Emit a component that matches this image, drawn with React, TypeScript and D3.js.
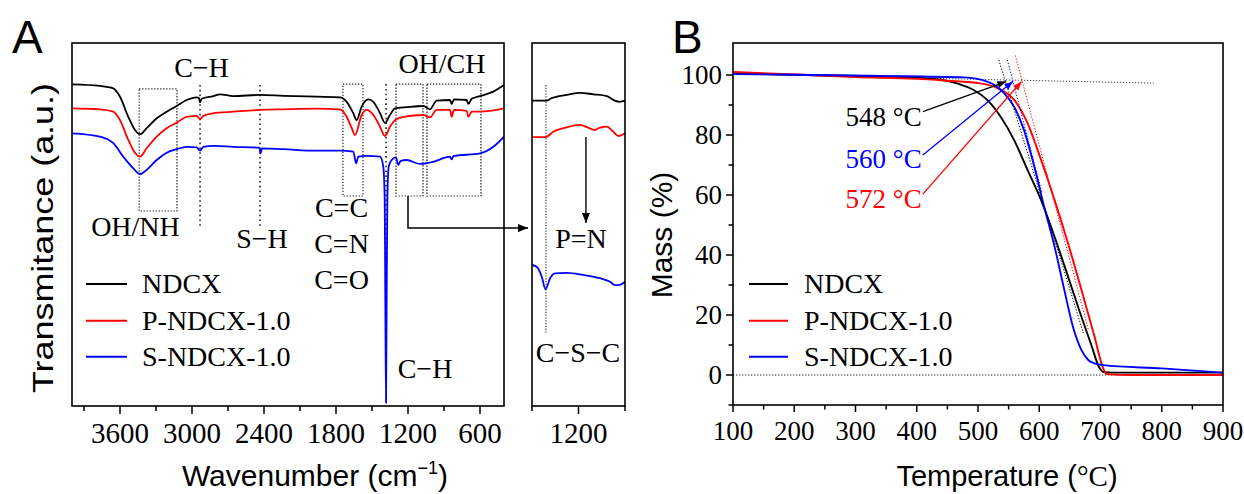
import React from 'react';
import * as d3 from 'd3';

const SERIF = "'Liberation Serif','Times New Roman',serif";
const SANS = "'Liberation Sans',Arial,sans-serif";
const BLACK = '#000000';
const RED = '#ff0000';
const BLUE = '#0000ff';

// ---------- FTIR (panel A) ----------
const ndcxWavenumber = [4000, 3767, 3656, 3600, 3531, 3475, 3433, 3378, 3294, 3211, 3128, 3044, 2961, 2942, 2933, 2919, 2822, 2767, 2656, 2433, 2239, 1961, 1767, 1711, 1656, 1628, 1586, 1531, 1489, 1433, 1392, 1350, 1308, 1211, 1072, 1017, 961, 850, 836, 817, 711, 697, 669, 600, 489, 400];
const ndcxTransmittance = [107.2, 106.7, 105.9, 103.1, 96.4, 92.0, 90.6, 92.6, 95.9, 98.1, 100.0, 102.0, 102.9, 102.6, 101.2, 102.4, 103.3, 103.9, 103.3, 103.7, 103.4, 103.1, 102.9, 101.4, 97.6, 95.3, 99.8, 102.2, 101.4, 97.6, 94.4, 97.0, 99.2, 99.6, 100.0, 98.9, 101.8, 102.0, 100.6, 102.2, 102.0, 100.7, 102.4, 103.3, 104.8, 107.0];

const pNdcxWavenumber = [4000, 3767, 3656, 3600, 3531, 3475, 3433, 3378, 3294, 3211, 3128, 3044, 2961, 2933, 2906, 2822, 2656, 2433, 2239, 1961, 1767, 1711, 1669, 1642, 1586, 1544, 1489, 1433, 1392, 1350, 1308, 1239, 1072, 1017, 961, 850, 836, 817, 711, 697, 669, 600, 400];
const pNdcxTransmittance = [99.2, 98.9, 98.1, 95.3, 88.7, 84.4, 83.1, 85.9, 89.8, 92.6, 94.4, 96.4, 96.7, 95.6, 96.7, 97.6, 98.1, 98.7, 98.9, 99.1, 98.9, 96.4, 92.6, 90.3, 97.0, 98.7, 97.0, 93.1, 90.0, 93.1, 95.3, 96.4, 97.0, 96.2, 98.7, 98.7, 96.4, 98.7, 98.4, 96.4, 98.1, 98.1, 99.2];

const sNdcxWavenumber = [4000, 3767, 3656, 3572, 3489, 3433, 3378, 3294, 3211, 3128, 3044, 2961, 2933, 2906, 2822, 2656, 2439, 2428, 2417, 2239, 1961, 1767, 1656, 1633, 1614, 1544, 1433, 1406, 1394, 1389, 1383, 1378, 1372, 1361, 1336, 1300, 1281, 1261, 1211, 1100, 989, 850, 836, 822, 600, 489, 400];
const sNdcxTransmittance = [90.9, 89.8, 87.6, 83.1, 79.2, 77.3, 78.7, 82.0, 84.4, 85.6, 86.4, 86.2, 85.1, 86.4, 86.7, 86.4, 86.1, 84.2, 85.9, 85.6, 85.1, 85.1, 84.8, 80.9, 83.1, 83.4, 83.1, 79.8, 68.7, 35.3, 1.0, 35.3, 68.7, 79.8, 82.0, 82.9, 80.3, 81.7, 82.0, 80.7, 81.4, 83.1, 82.2, 83.3, 84.2, 86.4, 89.8];

// inset (expanded 1300-1100 cm-1)
const insetNdcxWavenumber = [1300, 1268, 1258, 1225, 1197, 1168, 1139, 1122, 1111, 1100];
const insetNdcxTransmittance = [101.8, 101.8, 102.6, 103.7, 104.4, 103.9, 103.3, 101.8, 101.4, 101.8];
const insetPNdcxWavenumber = [1300, 1272, 1254, 1225, 1197, 1179, 1165, 1154, 1139, 1125, 1114, 1100];
const insetPNdcxTransmittance = [89.6, 89.6, 91.4, 92.9, 93.7, 92.8, 92.0, 92.8, 93.1, 91.4, 90.0, 90.9];
const insetSNdcxWavenumber = [1300, 1290, 1279, 1271, 1261, 1251, 1225, 1190, 1154, 1132, 1122, 1111, 1100];
const insetSNdcxTransmittance = [47.0, 46.4, 43.1, 38.9, 42.6, 44.2, 44.4, 43.7, 42.6, 41.4, 40.3, 40.4, 41.4];

const ftirMajorTicks = [3600, 3000, 2400, 1800, 1200, 600];
const ftirMinorTicks = [3900, 3300, 2700, 2100, 1500, 900];
const insetMajorTicks = [1200];
const insetMinorTicks = [1300, 1100];

// ---------- TGA (panel B) ----------
const ndcxTemp = [100, 200, 300, 400, 440, 466, 493, 515, 537, 559, 581, 603, 625, 647, 667, 685, 698, 705, 720, 800, 900];
const ndcxMass = [100.5, 100.1, 99.7, 99.2, 98.4, 97.2, 95.0, 91.7, 86.1, 78.3, 68.3, 58.3, 46.1, 32.8, 20.5, 10.0, 2.5, 1.0, 0.8, 0.8, 0.8];
const pNdcxTemp = [100, 200, 300, 400, 450, 504, 532, 559, 581, 603, 625, 647, 669, 690, 703, 710, 750, 900];
const pNdcxMass = [101.0, 100.2, 99.3, 98.7, 98.1, 97.2, 95.6, 91.7, 83.9, 71.7, 58.3, 43.9, 28.3, 13.0, 3.0, 0.3, 0.0, 0.0];
const sNdcxTemp = [100, 200, 340, 477, 515, 543, 559, 575, 592, 608, 625, 641, 655, 669, 680, 690, 705, 800, 900];
const sNdcxMass = [100.3, 100.1, 99.7, 99.2, 97.8, 93.9, 89.4, 81.7, 69.4, 56.1, 42.8, 28.3, 16.1, 8.3, 5.0, 3.9, 3.3, 2.2, 0.8];

const tgaXMajor = [100, 200, 300, 400, 500, 600, 700, 800, 900];
const tgaXMinor = [150, 250, 350, 450, 550, 650, 750, 850];
const tgaYMajor = [0, 20, 40, 60, 80, 100];
const tgaYMinor = [-10, 10, 30, 50, 70, 90];

const onsetLabels = ['548 °C', '560 °C', '572 °C'];
const onsetTemps = [546, 557, 571];
// tangent lines [T start, mass start, T end, mass end]
const tangentBlack = [534, 105, 672, 14];
const tangentBlue = [548, 105, 604, 61];
const tangentRed = [561, 106.5, 680, 15.3];
const baselineTangent = [100, 100.3, 787, 97.3];

const seriesNames = ['NDCX', 'P-NDCX-1.0', 'S-NDCX-1.0'];
const seriesColors = [BLACK, RED, BLUE];

function makePath(sx: any, sy: any, xs: number[], ys: number[], curve: any) {
  const pts: [number, number][] = xs.map((x, i) => [x, ys[i]]);
  return d3.line<[number, number]>().x(d => sx(d[0])).y(d => sy(d[1])).curve(curve)(pts) || '';
}

export default function App() {
  // panel A
  const xA = d3.scaleLinear().domain([4000, 400]).range([72, 504]);
  const yA = d3.scaleLinear().domain([0, 121]).range([406, 43]);
  const xI = d3.scaleLinear().domain([1300, 1100]).range([532, 625]);
  // panel B
  const xB = d3.scaleLinear().domain([100, 900]).range([733, 1223]);
  const yB = d3.scaleLinear().domain([-10, 110.67]).range([405, 43]);

  const dotted = { stroke: '#222', strokeWidth: 1.2, strokeDasharray: '1.3 1.7', fill: 'none' } as any;

  const ftirSeries = [
    [ndcxWavenumber, ndcxTransmittance],
    [pNdcxWavenumber, pNdcxTransmittance],
    [sNdcxWavenumber, sNdcxTransmittance],
  ];
  const insetSeries = [
    [insetNdcxWavenumber, insetNdcxTransmittance],
    [insetPNdcxWavenumber, insetPNdcxTransmittance],
    [insetSNdcxWavenumber, insetSNdcxTransmittance],
  ];
  const tgaSeries = [
    [ndcxTemp, ndcxMass],
    [pNdcxTemp, pNdcxMass],
    [sNdcxTemp, sNdcxMass],
  ];

  const ftirBoxes = [
    [3440, 3125, 65, 105.7],
    [1742, 1575, 70, 107.3],
    [1300, 1075, 70, 107.3],
    [1042, 592, 70, 107.3],
  ];
  const ftirVLines = [
    [2933, 59.7, 107],
    [2433, 59.7, 107],
    [1383, 2, 107.3],
  ];
  const ftirLabels: [string, number, number][] = [
    ['C−H', 2921, 109.7],
    ['OH/CH', 917, 111],
    ['OH/NH', 3471, 56.7],
    ['S−H', 2417, 52.7],
    ['C=C', 1754, 63],
    ['C=N', 1754, 51],
    ['C=O', 1754, 39],
    ['C−H', 1058, 9.3],
  ];

  const AX0 = xA.range()[0], AX1 = xA.range()[1];
  const AY0 = yA.range()[1], AY1 = yA.range()[0];
  const IX0 = xI.range()[0], IX1 = xI.range()[1];
  const BX0 = xB.range()[0], BX1 = xB.range()[1];
  const BY0 = yB.range()[1], BY1 = yB.range()[0];

  const legendRows = [284, 320.7, 356.7];

  return (
    <svg width={1244} height={494} viewBox="0 0 1244 494"
      style={{ position: 'absolute', left: 0, top: 0, background: '#fff' }}>
      <defs>
        {seriesColors.map((c, i) => (
          <marker key={i} id={`ah${i}`} viewBox="0 0 10 8" refX="10" refY="4"
            markerWidth="9" markerHeight="7" markerUnits="userSpaceOnUse" orient="auto">
            <path d="M0,0 L10,4 L0,8 z" fill={c} />
          </marker>
        ))}
        <marker id="ahBig" viewBox="0 0 10 8" refX="10" refY="4"
          markerWidth="11" markerHeight="8" markerUnits="userSpaceOnUse" orient="auto">
          <path d="M0,0 L10,4 L0,8 z" fill="#000" />
        </marker>
        <clipPath id="clipA"><rect x={AX0} y={AY0} width={AX1 - AX0} height={AY1 - AY0} /></clipPath>
        <clipPath id="clipI"><rect x={IX0} y={AY0} width={IX1 - IX0} height={AY1 - AY0} /></clipPath>
        <clipPath id="clipB"><rect x={BX0} y={BY0} width={BX1 - BX0} height={BY1 - BY0} /></clipPath>
      </defs>

      {/* ================= Panel A ================= */}
      <text x={12} y={53} fontFamily={SANS} fontSize={46}>A</text>

      {/* annotation boxes and lines */}
      {ftirBoxes.map((b, i) => (
        <rect key={i} x={xA(b[0])} y={yA(b[3])} width={xA(b[1]) - xA(b[0])} height={yA(b[2]) - yA(b[3])} style={dotted} />
      ))}
      {ftirVLines.map((l, i) => (
        <line key={i} x1={xA(l[0])} x2={xA(l[0])} y1={yA(l[2])} y2={yA(l[1])} style={{ ...dotted, strokeWidth: 1.6, strokeDasharray: '1.6 3.2' }} />
      ))}

      <g clipPath="url(#clipA)">
        {ftirSeries.map((s, i) => (
          <path key={i} d={makePath(xA, yA, s[0], s[1], d3.curveMonotoneX)} fill="none" stroke={seriesColors[i]} strokeWidth={1.8} strokeLinejoin="round" />
        ))}
      </g>

      {ftirLabels.map((l, i) => (
        <text key={i} x={xA(l[1])} y={yA(l[2])} fontFamily={SERIF} fontSize={28} textAnchor="middle">{l[0]}</text>
      ))}

      {/* arrow to inset */}
      <path d={`M${xA(1200)},${yA(70)} L${xA(1200)},${yA(59.3)} L${IX0 - 4},${yA(59.3)}`} fill="none" stroke="#000" strokeWidth={1.5} markerEnd="url(#ahBig)" />

      {/* legend A */}
      {seriesNames.map((n, i) => (
        <g key={i}>
          <line x1={86} x2={127} y1={legendRows[i]} y2={legendRows[i]} stroke={seriesColors[i]} strokeWidth={2} />
          <text x={142} y={legendRows[i] + 9} fontFamily={SERIF} fontSize={28}>{n}</text>
        </g>
      ))}

      <rect x={AX0} y={AY0} width={AX1 - AX0} height={AY1 - AY0} fill="none" stroke="#000" strokeWidth={1.6} />
      {ftirMajorTicks.map(t => (
        <g key={t}>
          <line x1={xA(t)} x2={xA(t)} y1={AY1} y2={AY1 + 8} stroke="#000" strokeWidth={1.5} />
          <text x={xA(t)} y={443} fontFamily={SERIF} fontSize={29} textAnchor="middle">{t}</text>
        </g>
      ))}
      {ftirMinorTicks.map(t => (
        <line key={t} x1={xA(t)} x2={xA(t)} y1={AY1} y2={AY1 + 5} stroke="#000" strokeWidth={1.5} />
      ))}

      {/* inset */}
      <line x1={xI(1270)} x2={xI(1270)} y1={yA(107)} y2={yA(24.3)} style={{ ...dotted, strokeWidth: 1.1, strokeDasharray: '1.2 1.6' }} />
      <g clipPath="url(#clipI)">
        {insetSeries.map((s, i) => (
          <path key={i} d={makePath(xI, yA, s[0], s[1], d3.curveMonotoneX)} fill="none" stroke={seriesColors[i]} strokeWidth={1.8} />
        ))}
      </g>
      <line x1={xI(1184)} x2={xI(1184)} y1={yA(89.7)} y2={yA(61)} stroke="#000" strokeWidth={1.4} markerEnd="url(#ahBig)" />
      <text x={xI(1194.6)} y={yA(52.7)} fontFamily={SERIF} fontSize={28} textAnchor="middle">P=N</text>
      <text x={xI(1201)} y={yA(14.7)} fontFamily={SERIF} fontSize={28} textAnchor="middle">C−S−C</text>
      <rect x={IX0} y={AY0} width={IX1 - IX0} height={AY1 - AY0} fill="none" stroke="#000" strokeWidth={1.6} />
      {insetMajorTicks.map(t => (
        <g key={t}>
          <line x1={xI(t)} x2={xI(t)} y1={AY1} y2={AY1 + 8} stroke="#000" strokeWidth={1.5} />
          <text x={xI(t)} y={443} fontFamily={SERIF} fontSize={29} textAnchor="middle">{t}</text>
        </g>
      ))}
      {insetMinorTicks.map(t => (
        <line key={t} x1={xI(t)} x2={xI(t)} y1={AY1} y2={AY1 + 5} stroke="#000" strokeWidth={1.5} />
      ))}

      {/* axis titles A */}
      <text x={315} y={486} fontFamily={SANS} fontSize={30} textAnchor="middle">
        Wavenumber (cm<tspan fontSize={18} dy={-12}>−1</tspan><tspan dy={12}>)</tspan>
      </text>
      <text transform="translate(53,238) rotate(-90)" fontFamily={SANS} fontSize={30} textAnchor="middle"
        textLength={310} lengthAdjust="spacingAndGlyphs">Transmitance (a.u.)</text>

      {/* ================= Panel B ================= */}
      <text x={672} y={53} fontFamily={SANS} fontSize={46}>B</text>

      <g clipPath="url(#clipB)">
        <line x1={xB(100)} x2={xB(900)} y1={yB(0)} y2={yB(0)} style={{ ...dotted, strokeWidth: 1 }} />
        <line x1={xB(baselineTangent[0])} y1={yB(baselineTangent[1])} x2={xB(baselineTangent[2])} y2={yB(baselineTangent[3])} style={{ ...dotted, stroke: '#444', strokeWidth: 1 }} />
        {tgaSeries.map((s, i) => (
          <path key={i} d={makePath(xB, yB, s[0], s[1], d3.curveMonotoneX)} fill="none" stroke={seriesColors[i]} strokeWidth={1.9} strokeLinejoin="round" />
        ))}
        {[tangentBlack, tangentRed, tangentBlue].map((t, i) => (
          <line key={i} x1={xB(t[0])} y1={yB(t[1])} x2={xB(t[2])} y2={yB(t[3])}
            style={{ ...dotted, stroke: [BLACK, RED, BLUE][i], strokeWidth: 1 }} />
        ))}
      </g>

      {onsetLabels.map((l, i) => {
        const baseMass = [83, 69, 55.7][i];
        const startMass = [87.8, 73.3, 60.3][i];
        return (
          <g key={i}>
            <text x={xB(408)} y={yB(baseMass)} fontFamily={SERIF} fontSize={27} textAnchor="end" fill={seriesColors[i === 0 ? 0 : i === 1 ? 2 : 1]}>{l}</text>
            <line x1={xB(410)} y1={yB(startMass)} x2={xB(onsetTemps[i])} y2={yB(97.8)}
              stroke={seriesColors[i === 0 ? 0 : i === 1 ? 2 : 1]} strokeWidth={1.3} markerEnd={`url(#ah${i === 0 ? 0 : i === 1 ? 2 : 1})`} />
          </g>
        );
      })}

      {/* legend B */}
      {seriesNames.map((n, i) => (
        <g key={i}>
          <line x1={749} x2={788} y1={legendRows[i]} y2={legendRows[i]} stroke={seriesColors[i]} strokeWidth={2} />
          <text x={804} y={legendRows[i] + 9} fontFamily={SERIF} fontSize={28}>{n}</text>
        </g>
      ))}

      <rect x={BX0} y={BY0} width={BX1 - BX0} height={BY1 - BY0} fill="none" stroke="#000" strokeWidth={1.6} />
      {tgaXMajor.map(t => (
        <g key={t}>
          <line x1={xB(t)} x2={xB(t)} y1={BY1} y2={BY1 + 7} stroke="#000" strokeWidth={1.5} />
          <text x={xB(t)} y={440} fontFamily={SERIF} fontSize={27} textAnchor="middle">{t}</text>
        </g>
      ))}
      {tgaXMinor.map(t => (
        <line key={t} x1={xB(t)} x2={xB(t)} y1={BY1} y2={BY1 + 4.5} stroke="#000" strokeWidth={1.5} />
      ))}
      {tgaYMajor.map(t => (
        <g key={t}>
          <line x1={BX0} x2={BX0 - 7} y1={yB(t)} y2={yB(t)} stroke="#000" strokeWidth={1.5} />
          <text x={BX0 - 11} y={yB(t) + 9} fontFamily={SERIF} fontSize={27} textAnchor="end">{t}</text>
        </g>
      ))}
      {tgaYMinor.map(t => (
        <line key={t} x1={BX0} x2={BX0 - 4.5} y1={yB(t)} y2={yB(t)} stroke="#000" strokeWidth={1.5} />
      ))}

      <text x={1007} y={486} fontFamily={SANS} fontSize={29} textAnchor="middle">
        Temperature (<tspan fontFamily={SERIF}>°C</tspan>)
      </text>
      <text transform="translate(672,235) rotate(-90)" fontFamily={SANS} fontSize={30} textAnchor="middle">Mass (%)</text>
    </svg>
  );
}
